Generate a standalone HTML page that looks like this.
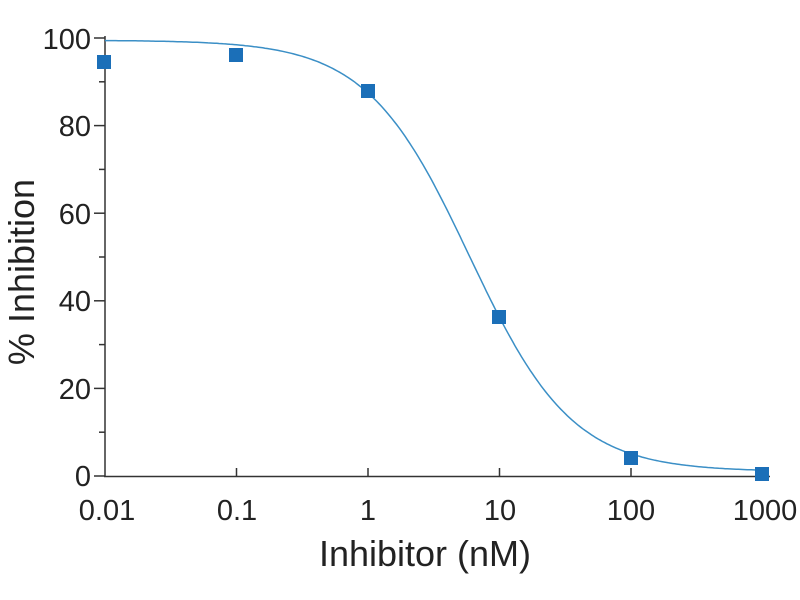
<!DOCTYPE html>
<html><head><meta charset="utf-8"><style>
body{margin:0;background:#fff}
svg{display:block}
text{font-family:"Liberation Sans",sans-serif;fill:#222}
</style></head><body>
<svg id="s" width="800" height="600" xmlns="http://www.w3.org/2000/svg">
<g stroke="#333" stroke-width="1.5" fill="none">
<line x1="105" y1="36" x2="105" y2="477"/>
<line x1="104" y1="476.5" x2="770" y2="476.5"/>
<line x1="94" y1="38" x2="105" y2="38"/>
<line x1="94" y1="125.6" x2="105" y2="125.6"/>
<line x1="94" y1="213.2" x2="105" y2="213.2"/>
<line x1="94" y1="300.8" x2="105" y2="300.8"/>
<line x1="94" y1="388.4" x2="105" y2="388.4"/>
<line x1="94" y1="476" x2="105" y2="476"/>
<line x1="99" y1="81.8" x2="105" y2="81.8"/>
<line x1="99" y1="169.4" x2="105" y2="169.4"/>
<line x1="99" y1="257" x2="105" y2="257"/>
<line x1="99" y1="344.6" x2="105" y2="344.6"/>
<line x1="99" y1="432.2" x2="105" y2="432.2"/>
<line x1="236.5" y1="468" x2="236.5" y2="477"/>
<line x1="368" y1="468" x2="368" y2="477"/>
<line x1="499.5" y1="468" x2="499.5" y2="477"/>
<line x1="631" y1="468" x2="631" y2="477"/>
<line x1="762.5" y1="468" x2="762.5" y2="477"/>
</g>
<g font-size="29" text-anchor="end">
<text x="91" y="49">100</text>
<text x="91" y="136">80</text>
<text x="91" y="224">60</text>
<text x="91" y="311">40</text>
<text x="91" y="399">20</text>
<text x="91" y="486">0</text>
</g>
<g font-size="29" text-anchor="middle">
<text x="107" y="520">0.01</text>
<text x="237" y="520">0.1</text>
<text x="368" y="520">1</text>
<text x="500" y="520">10</text>
<text x="631" y="520">100</text>
<text x="765" y="520">1000</text>
</g>
<text x="425" y="566" font-size="36" text-anchor="middle">Inhibitor (nM)</text>
<text transform="translate(34,272) rotate(-90)" font-size="36" text-anchor="middle">% Inhibition</text>
<polyline id="c" fill="none" stroke="#3b8fc6" stroke-width="1.5"/>
<g fill="#1b6fb8">
<rect x="97" y="55" width="14" height="14"/>
<rect x="229" y="48" width="14" height="14"/>
<rect x="361" y="84" width="14" height="14"/>
<rect x="492" y="310" width="14" height="14"/>
<rect x="624" y="451" width="14" height="14"/>
<rect x="755" y="467" width="14" height="14"/>
</g>
</svg>
<script>
var p=[];for(var i=0;i<=300;i++){var lx=-2+5*i/300;var x=Math.pow(10,lx);
var v=1+98.5/(1+Math.pow(x/5.9,1.11));p.push((105+(lx+2)*131.5).toFixed(1)+","+(476-v*4.38).toFixed(1));}
document.getElementById("c").setAttribute("points",p.join(" "));
</script>
</body></html>
